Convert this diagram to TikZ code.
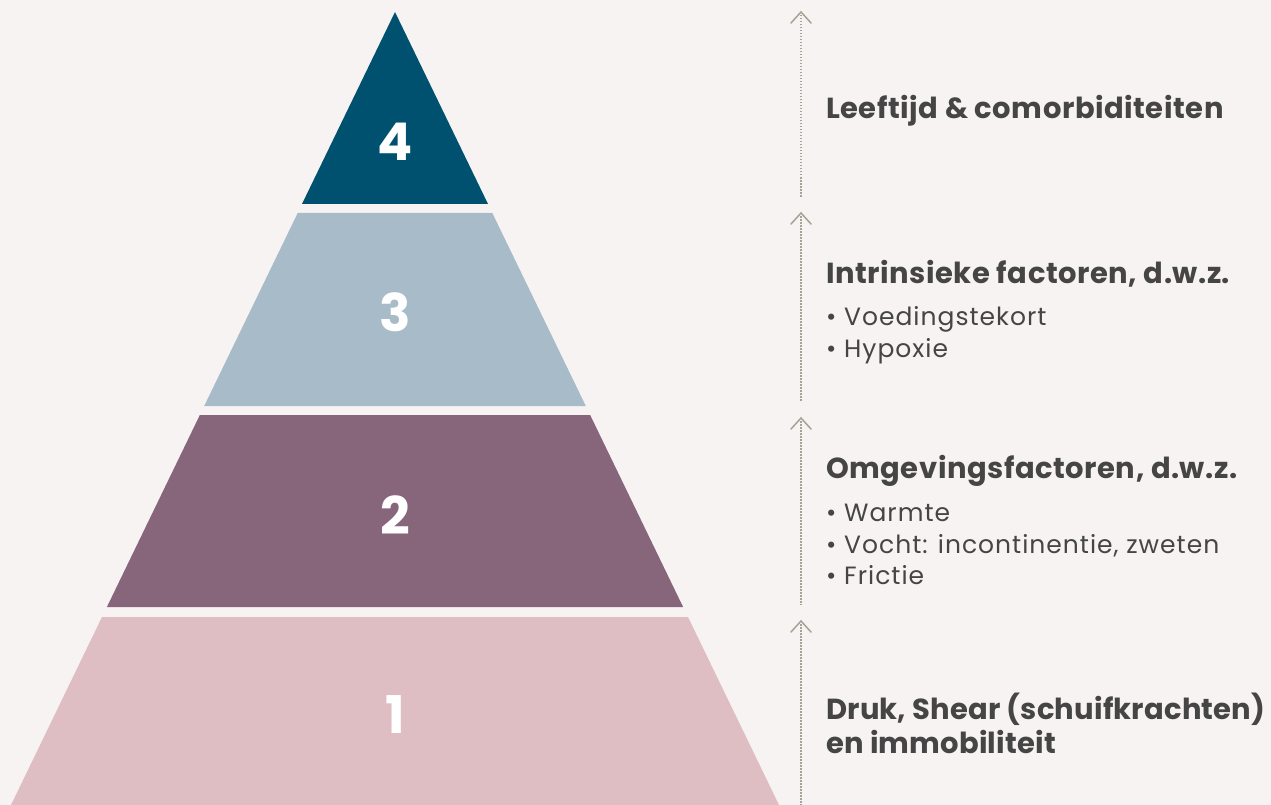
\documentclass[tikz,border=0pt]{standalone}
\usepackage{fontspec}
\setmainfont{Poppins}
\definecolor{pagebg}{HTML}{F7F3F2}
\definecolor{levelfour}{HTML}{00516F}
\definecolor{levelthree}{HTML}{A7BCC8}
\definecolor{leveltwo}{HTML}{87667B}
\definecolor{levelone}{HTML}{DEBEC2}
\definecolor{textgray}{HTML}{454545}
\definecolor{arrowgray}{HTML}{A9A196}
\tikzset{
  layer/.style={draw=none},
  levelnum/.style={text=white, font=\fontsize{52}{52}\selectfont\bfseries, inner sep=0pt},
  heading/.style={anchor=base west, text=textgray, font=\fontsize{29}{29}\selectfont\bfseries\addfontfeatures{LetterSpace=1.8}, inner sep=0pt},
  tightheading/.style={heading, font=\fontsize{29}{29}\selectfont\bfseries\addfontfeatures{LetterSpace=0.6}},
  bullet/.style={anchor=base west, text=textgray, font=\fontsize{25}{25}\selectfont\addfontfeatures{LetterSpace=4}, inner sep=0pt},
  riseline/.style={draw=arrowgray, line width=1.5pt, dash pattern=on 1.5pt off 1.5pt},
  chevron/.style={draw=arrowgray, line width=1.5pt, line cap=round, line join=miter},
}
\begin{document}
\begin{tikzpicture}[x=1pt, y=-1pt]
  % page background and fixed frame
  \fill[pagebg] (0,0) rectangle (1271,805);
  \useasboundingbox (0,0) rectangle (1271,805);

  % pyramid layers, bottom to top
  \fill[levelone]   (102.0,617) -- (688.0,617) -- (779,805) -- (11,805) -- cycle;
  \fill[leveltwo]   (199.85,415) -- (590.15,415) -- (683.1,607) -- (106.9,607) -- cycle;
  \fill[levelthree] (297.7,213) -- (492.3,213) -- (585.8,406) -- (204.2,406) -- cycle;
  \fill[levelfour]  (395,12) -- (488.0,204) -- (302.0,204) -- cycle;

  % level numbers
  \node[levelnum] (n4) at (395,142) {4};
  \node[levelnum] (n3) at (395,312) {3};
  \node[levelnum] (n2) at (395,515) {2};
  \node[levelnum] (n1) at (395,715) {1};

  % rising dotted guides with open chevron heads
  \coordinate (t4) at (801,12);  \coordinate (b4) at (801,198);
  \coordinate (t3) at (801,213); \coordinate (b3) at (801,401);
  \coordinate (t2) at (801,418); \coordinate (b2) at (801,605);
  \coordinate (t1) at (801,621); \coordinate (b1) at (801,805);
  \foreach \t/\b in {t4/b4, t3/b3, t2/b2, t1/b1} {
    \draw[riseline] ([yshift=-3pt]\t) -- (\b);
    \draw[chevron] ([xshift=-10pt, yshift=-11pt]\t) -- (\t) -- ([xshift=10pt, yshift=-11pt]\t);
  }

  % level descriptions
  \node[heading] (h4) at (826,119) {Leeftijd \& comorbiditeiten};

  \node[heading] (h3) at (826,283) {Intrinsieke factoren, d.w.z.};
  \node[bullet] (h3a) at (826,325) {• Voedingstekort};
  \node[bullet] (h3b) at (826,357) {• Hypoxie};

  \node[heading] (h2) at (826,478) {Omgevingsfactoren, d.w.z.};
  \node[bullet] (h2a) at (826,521) {• Warmte};
  \node[bullet] (h2b) at (826,553) {• Vocht: incontinentie, zweten};
  \node[bullet] (h2c) at (826,584) {• Frictie};

  \node[tightheading] (h1a) at (826,719) {Druk, Shear (schuifkrachten)};
  \node[tightheading] (h1b) at (826,753) {en immobiliteit};
\end{tikzpicture}
\end{document}
